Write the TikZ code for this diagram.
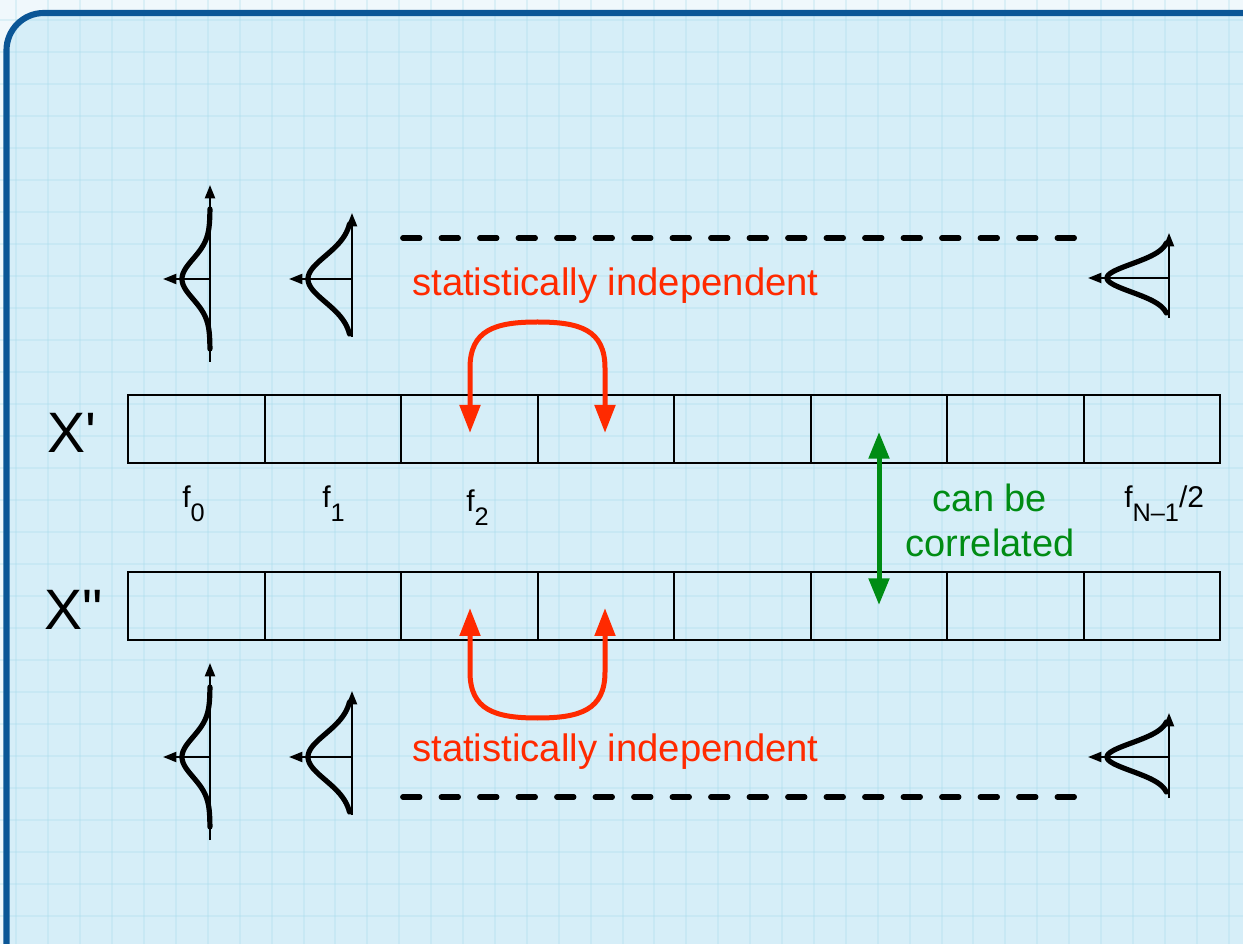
\documentclass[tikz,border=0pt]{standalone}
\usepackage{fontspec}
\setmainfont{Liberation Sans}
\usetikzlibrary{arrows.meta}
\definecolor{bgin}{RGB}{214,238,248}
\definecolor{bgout}{RGB}{240,248,252}
\definecolor{gridc}{RGB}{170,220,235}
\definecolor{framec}{RGB}{11,86,150}
\definecolor{redc}{RGB}{255,42,0}
\definecolor{greenc}{RGB}{0,140,20}
\newcommand\gaussglyph[7]{%
  \draw[gaxis] (#1,#4) -- (#1,#3);
  \draw[gaxis] (#1,#2) -- ({#1-#5-19},#2);
  \draw[gcurve] plot[domain=-#7:#7,samples=80] ({#1-#5*exp(-0.5*(\x/#6)*(\x/#6))},{#2+\x});
}
\newcommand\fsub[1]{\raisebox{-10.5pt}{\fontsize{19}{19}\selectfont #1}}
\begin{document}
\begin{tikzpicture}[x=0.75pt,y=-0.75pt,
  cell/.style={draw=black,line width=1.5pt,minimum width=102.375pt,minimum height=51pt,inner sep=0pt,outer sep=0pt},
  flbl/.style={font=\fontsize{22.5}{27}\selectfont,inner sep=0pt,anchor=base west},
  xlbl/.style={font=\fontsize{42.75}{50}\selectfont,inner sep=0pt,anchor=base west},
  indep/.style={text=redc,font=\fontsize{28.7}{34}\selectfont,inner sep=0pt,anchor=base west},
  corr/.style={text=greenc,font=\fontsize{28.5}{34}\selectfont,inner sep=0pt,anchor=base},
  redarrow/.style={draw=redc,line width=3.75pt,{Triangle[length=21pt,width=15pt]}-{Triangle[length=21pt,width=15pt]}},
  greenarrow/.style={draw=greenc,line width=3.75pt,{Triangle[length=20pt,width=15pt]}-{Triangle[length=20pt,width=15pt]}},
  dashline/.style={draw=black,line width=4pt,line cap=round,dash pattern=on 12.75pt off 16.125pt},
  gaxis/.style={draw=black,line width=1.5pt,-{Triangle[length=10pt,width=7.5pt]}},
  gcurve/.style={draw=black,line width=3.9pt,line cap=round,line join=round},
  gridline/.style={draw=gridc,line width=1.5pt,opacity=0.3},
  framebox/.style={draw=framec,line width=4.6pt,rounded corners=28pt}
]
\useasboundingbox (0,0) rectangle (1243,944);
\begin{scope}
\clip (0,0) rectangle (1243,944);
\fill[bgout] (0,0) rectangle (1243,944);
\fill[bgin,rounded corners=28pt] (6.5,13) rectangle (1300,1000);
\foreach \i in {0,...,39} \draw[gridline] ({16.4+31.9*\i},0) -- ({16.4+31.9*\i},944);
\foreach \j in {0,...,29} \draw[gridline] (0,{19.7+32*\j}) -- (1243,{19.7+32*\j});
\draw[framebox] (6.5,13) rectangle (1300,1000);
\end{scope}

% cells
\foreach \i in {1,...,8} {
  \node[cell] (t\i) at ({128+136.5*(\i-0.5)},429) {};
  \node[cell] (b\i) at ({128+136.5*(\i-0.5)},606.5) {};
}

% row labels
\node[xlbl] (xp) at (47,453) {X\textquotesingle};
\node[xlbl] (xpp) at (44,630) {X\textquotedbl};

% frequency labels
\node[flbl] (f0) at (182,508) {f\fsub{0}};
\node[flbl] (f1) at (322,508) {f\fsub{1}};
\node[flbl] (f2) at (466,512) {f\fsub{2}};
\node[flbl] (fn) at (1124,508) {f\fsub{N–1}/2};

% dashed lines
\coordinate (dl1) at (402.8,238);
\coordinate (dr1) at (1075.2,238);
\coordinate (dl2) at (402.8,797);
\coordinate (dr2) at (1075.2,797);
\draw[dashline] (dl1) -- (dr1);
\draw[dashline] (dl2) -- (dr2);

% red texts
\node[indep] (si1) at (412,296) {statistically independent};
\node[indep] (si2) at (412,761) {statistically independent};

% red arrows
\coordinate (ra1) at (470,433);
\coordinate (ra2) at (605,433);
\draw[redarrow] (ra1) -- (470,368) .. controls (470,330) and (495,322) .. (537.5,322)
  .. controls (580,322) and (605,330) .. (605,368) -- (ra2);
\coordinate (rb1) at (470,608);
\coordinate (rb2) at (605,608);
\draw[redarrow] (rb1) -- (470,672) .. controls (470,710) and (495,718) .. (537.5,718)
  .. controls (580,718) and (605,710) .. (605,672) -- (rb2);

% green arrow and text
\coordinate (g1) at (879,432);
\coordinate (g2) at (879,605);
\draw[greenarrow] (g1) -- (g2);
\node[corr] (cb1) at (990,512) {can be};
\node[corr] (cb2) at (990,557) {correlated};

% gaussian glyphs
\gaussglyph{210}{279}{185}{362}{28}{20}{70}
\gaussglyph{352}{279}{213}{337}{44}{23}{55}
\gaussglyph{1169}{278}{233}{318}{62}{14}{35}
\gaussglyph{210}{757}{663}{840}{28}{20}{70}
\gaussglyph{352}{757}{691}{815}{44}{23}{55}
\gaussglyph{1169}{757}{713}{798}{62}{14}{35}
\end{tikzpicture}
\end{document}
